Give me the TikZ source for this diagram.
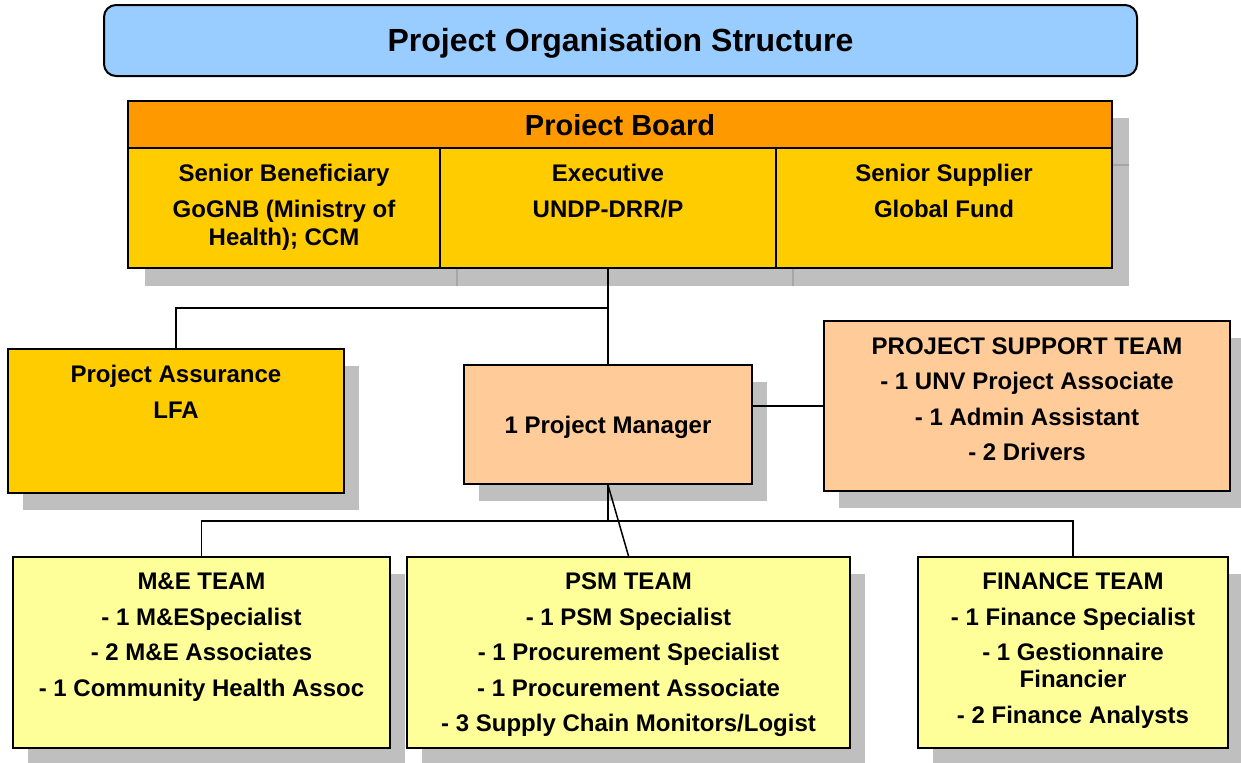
\documentclass[tikz,border=0pt]{standalone}
\usepackage{fontspec}
\setmainfont{Liberation Sans}
\usetikzlibrary{shadows}
\definecolor{titleblue}{HTML}{99CCFF}
\definecolor{boardorange}{HTML}{FF9900}
\definecolor{boardgold}{HTML}{FFCC00}
\definecolor{peach}{HTML}{FFCC99}
\definecolor{paleyellow}{HTML}{FFFF99}
\definecolor{shadowgray}{HTML}{BFBFBF}
\definecolor{shadowline}{HTML}{A6A6A6}
\begin{document}
\begin{tikzpicture}[x=0.5pt,y=0.5pt,yscale=-1,xscale=1,
  box/.style={draw=black,line width=1pt,inner sep=0pt,align=center,
    font=\bfseries\fontsize{12}{17.75}\selectfont},
  shadowed/.style={drop shadow={shadow xshift=7.5pt,shadow yshift=-8.5pt,
    fill=shadowgray,opacity=1}},
  lbl/.style={anchor=north,inner sep=0pt,align=center,
    font=\bfseries\fontsize{12}{17.75}\selectfont},
  conn/.style={line width=0.75pt}]
\useasboundingbox (0,0) rectangle (1241,762);

% Title
\node[box,rounded corners=6pt,fill=titleblue,minimum width=516.5pt,minimum height=35.5pt,
  text depth=1pt,font=\bfseries\fontsize{16}{19}\selectfont] (title) at (620.5,40.5) {Project Organisation Structure};

% Board shadow
\fill[shadowgray] (145,118) rectangle (1129,286);
\draw[shadowline,line width=1pt] (457,118) -- (457,286) (793,118) -- (793,286) (145,165) -- (1129,165);

% Board
\node[box,fill=boardorange,minimum width=492pt,minimum height=23.5pt,text depth=0pt,
  font=\bfseries\fontsize{14.5}{17}\selectfont] (board) at (620,124.5) {Proiect Board};
\node[box,fill=boardgold,minimum width=156pt,minimum height=60pt] (beneficiary) at (284,208) {};
\node[box,fill=boardgold,minimum width=168pt,minimum height=60pt] (executive) at (608,208) {};
\node[box,fill=boardgold,minimum width=168pt,minimum height=60pt] (supplier) at (944,208) {};
\node[lbl] at ([yshift=8.5pt]beneficiary.north) {Senior Beneficiary\\GoGNB (Ministry of\\[-3.75pt]Health); CCM};
\node[lbl] at ([yshift=8.5pt]executive.north) {Executive\\UNDP-DRR/P};
\node[lbl] at ([yshift=8.5pt]supplier.north) {Senior Supplier\\Global Fund};

% Middle level
\node[box,shadowed,fill=boardgold,minimum width=168pt,minimum height=72pt] (assurance) at (176,421) {};
\node[lbl] at ([yshift=8.5pt]assurance.north) {Project Assurance\\LFA};
\node[box,shadowed,fill=peach,minimum width=144pt,minimum height=59.5pt,text depth=0pt] (pm) at (608,424.5) {1 Project Manager};
\node[box,shadowed,fill=peach,minimum width=203pt,minimum height=85pt] (support) at (1027,406) {};
\node[lbl] at ([yshift=8.5pt]support.north) {PROJECT SUPPORT TEAM\\- 1 UNV Project Associate\\- 1 Admin Assistant\\- 2 Drivers};

% Teams
\node[box,shadowed,fill=paleyellow,minimum width=188.5pt,minimum height=95.5pt] (me) at (201.5,652.5) {};
\node[lbl] at ([yshift=8.25pt]me.north) {M\&E TEAM\\- 1 M\&ESpecialist\\- 2 M\&E Associates\\- 1 Community Health Assoc};
\node[box,shadowed,fill=paleyellow,minimum width=221.5pt,minimum height=95.5pt] (psm) at (628.5,652.5) {};
\node[lbl] at ([yshift=8.25pt]psm.north) {PSM TEAM\\- 1 PSM Specialist\\- 1 Procurement Specialist\\- 1 Procurement Associate\\- 3 Supply Chain Monitors/Logist};
\node[box,shadowed,fill=paleyellow,minimum width=155pt,minimum height=95.5pt] (fin) at (1073,652.5) {};
\node[lbl] at ([yshift=8.25pt]fin.north) {FINANCE TEAM\\- 1 Finance Specialist\\- 1 Gestionnaire\\[-4.25pt]Financier\\- 2 Finance Analysts};

% Connectors
\coordinate (abranch) at (608,308);
\coordinate (tbranch) at (608,521);
\draw[conn] (executive.south) -- (pm.north);
\draw[conn] (assurance.north) |- (abranch);
\draw[conn] (pm.east |- support.west) -- (support.west);
\draw[conn] (pm.south) -- (tbranch);
\draw[conn] (me.north) |- (tbranch) -| (fin.north);
\draw[conn] (pm.south) -- (psm.north);

\end{tikzpicture}
\end{document}
